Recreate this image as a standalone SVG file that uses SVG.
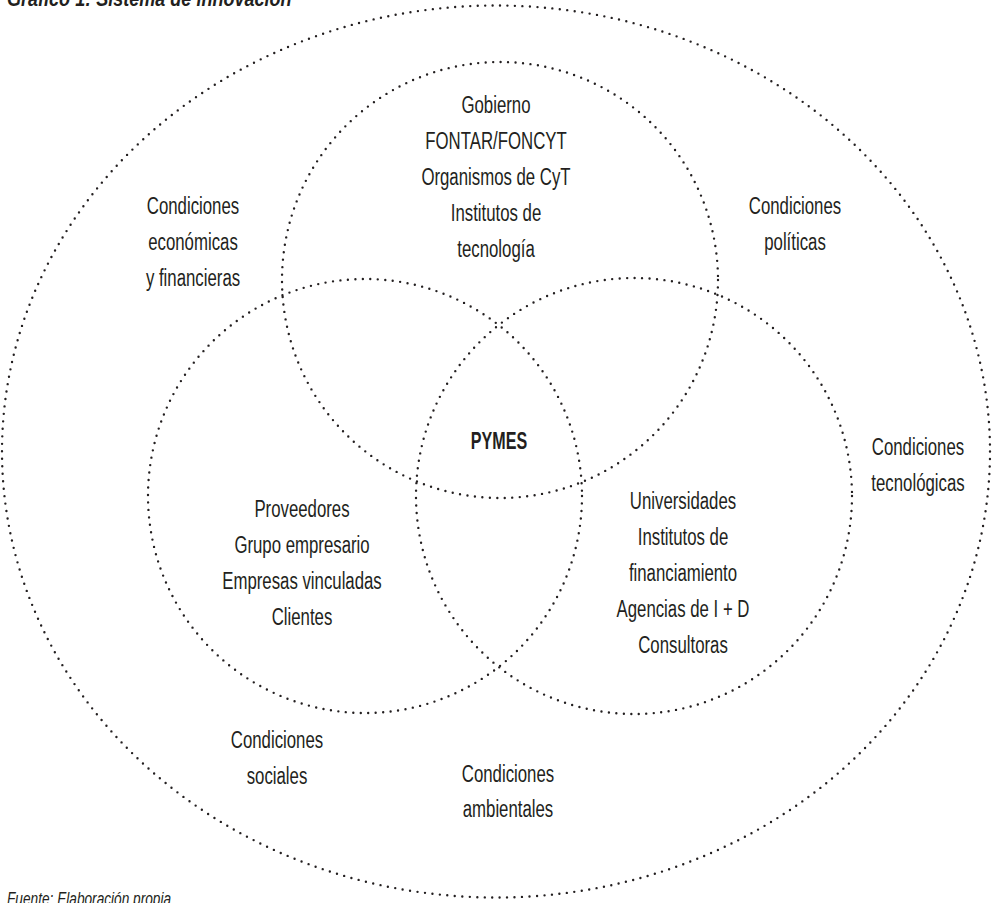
<svg xmlns="http://www.w3.org/2000/svg" width="993" height="903" viewBox="0 0 993 903">
<style>
.c{fill:none;stroke:#231f20;stroke-width:2.4;stroke-linecap:round;stroke-dasharray:0 7.5}
text{font-family:"Liberation Sans",Arial,sans-serif;font-size:23px;fill:#231f20;text-anchor:middle}
.b{font-weight:bold}
.t{font-weight:bold;font-style:italic;text-anchor:start;font-size:22px}
.f{font-style:italic;text-anchor:start;font-size:18px}
</style>
<rect width="993" height="903" fill="#ffffff"/>
<g id="connectors">
<ellipse id="outer" class="c" cx="496" cy="451.5" rx="494" ry="446"/>
<circle id="c-top" class="c" cx="500" cy="280" r="218"/>
<circle id="c-left" class="c" cx="365" cy="496" r="217"/>
<circle id="c-right" class="c" cx="634" cy="496" r="218"/>
</g>
<g id="title" transform="matrix(0.82 0 0 1 7 0)"><text class="t" x="0" y="6">Gráfico 1: Sistema de innovación</text></g>
<g id="n-economicas" transform="matrix(0.73 0 0 1 193 0)"><text x="0" y="214">Condiciones</text><text x="0" y="250">económicas</text><text x="0" y="286">y financieras</text></g>
<g id="n-gobierno" transform="matrix(0.73 0 0 1 496 0)"><text x="0" y="113">Gobierno</text><text x="0" y="149">FONTAR/FONCYT</text><text x="0" y="185">Organismos de CyT</text><text x="0" y="221">Institutos de</text><text x="0" y="257">tecnología</text></g>
<g id="n-politicas" transform="matrix(0.73 0 0 1 795 0)"><text x="0" y="214">Condiciones</text><text x="0" y="250">políticas</text></g>
<g id="n-pymes" transform="matrix(0.7 0 0 1 499 0)"><text class="b" x="0" y="449">PYMES</text></g>
<g id="n-tecnologicas" transform="matrix(0.73 0 0 1 918 0)"><text x="0" y="455">Condiciones</text><text x="0" y="491">tecnológicas</text></g>
<g id="n-proveedores" transform="matrix(0.73 0 0 1 302 0)"><text x="0" y="517">Proveedores</text><text x="0" y="553">Grupo empresario</text><text x="0" y="589">Empresas vinculadas</text><text x="0" y="625">Clientes</text></g>
<g id="n-universidades" transform="matrix(0.73 0 0 1 683 0)"><text x="0" y="509">Universidades</text><text x="0" y="545">Institutos de</text><text x="0" y="581">financiamiento</text><text x="0" y="617">Agencias de I + D</text><text x="0" y="653">Consultoras</text></g>
<g id="n-sociales" transform="matrix(0.73 0 0 1 277 0)"><text x="0" y="748">Condiciones</text><text x="0" y="784">sociales</text></g>
<g id="n-ambientales" transform="matrix(0.73 0 0 1 508 0)"><text x="0" y="782">Condiciones</text><text x="0" y="817">ambientales</text></g>
<g id="footer" transform="matrix(0.76 0 0 1 7 0)"><text class="f" x="0" y="905">Fuente: Elaboración propia.</text></g>
</svg>
